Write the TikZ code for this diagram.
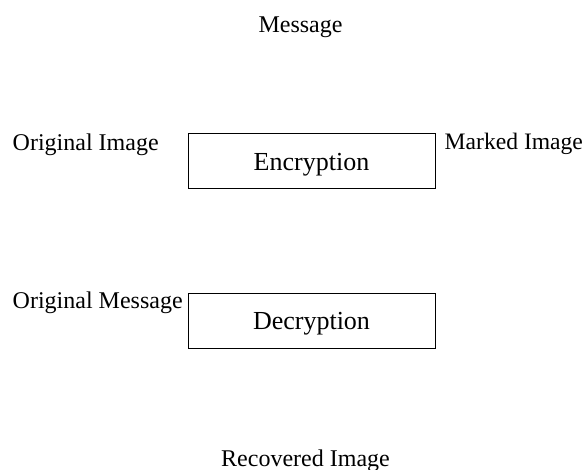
\documentclass[tikz,border=0pt]{standalone}
\usepackage{fontspec}
\setmainfont{Liberation Serif}
\begin{document}
\begin{tikzpicture}[x=1pt,y=-1pt,
  lbl/.style={inner sep=0pt,font=\fontsize{24}{28}\selectfont},
  procbox/.style={draw,line width=1pt,minimum width=247pt,minimum height=55pt,inner sep=0pt,
    text height=17.2pt,text depth=0pt,font=\fontsize{26}{30}\selectfont}]
\useasboundingbox (0,0) rectangle (586,470);
\node[lbl,anchor=base] (msg) at (300.5,33) {Message};
\node[lbl,anchor=base west] (orig) at (12.5,151) {Original Image};
\node[lbl,anchor=base west,font=\fontsize{23.6}{28}\selectfont] (marked) at (444.5,150) {Marked Image};
\node[procbox] (enc) at (311.5,161.5) {Encryption};
\node[lbl,anchor=base west] (origmsg) at (12.5,308) {Original Message};
\node[procbox] (dec) at (311.5,320.5) {Decryption};
\node[lbl,anchor=base] (rec) at (305.5,466) {Recovered Image};
\end{tikzpicture}
\end{document}
